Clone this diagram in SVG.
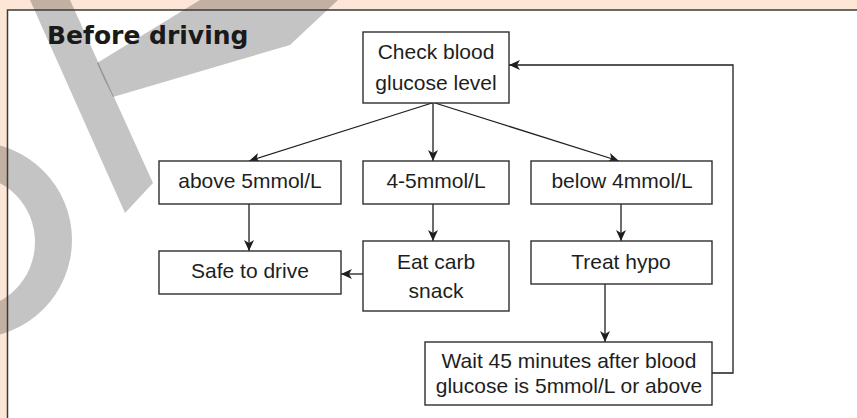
<svg xmlns="http://www.w3.org/2000/svg" width="857" height="418" viewBox="0 0 857 418">
  <defs>
    <style>
      .box { fill: #ffffff; stroke: #2e2e2e; stroke-width: 1.4; }
      .lbl { font-family: "Liberation Sans", Arial, sans-serif; font-size: 21px; fill: #1e1e1e; text-anchor: middle; }
      .title { font-family: "DejaVu Sans", "Liberation Sans", sans-serif; font-weight: bold; font-size: 25px; fill: #1a1a1a; }
      .conn { fill: none; stroke: #1e1e1e; stroke-width: 1.3; }
      .wm { fill: #000000; fill-opacity: 0.23; }
    </style>
    <marker id="arr" markerUnits="userSpaceOnUse" markerWidth="12" markerHeight="11" refX="11" refY="5" orient="auto">
      <path d="M0,0 L11,5 L0,10 L3,5 z" fill="#1e1e1e"/>
    </marker>
    <clipPath id="clipAll"><rect x="0" y="0" width="857" height="418"/></clipPath>
  </defs>

  <!-- background -->
  <rect x="0" y="0" width="857" height="418" fill="#fde6d5"/>
  <rect x="7.5" y="10" width="860" height="420" fill="#ffffff"/>

  <!-- watermark -->
  <g id="watermark" clip-path="url(#clipAll)">
    <polygon class="wm" points="30,0 70,0 153,183 125,213"/>
    <polygon class="wm" points="97,63 200,0 338,0 290,45 113,97 104,79"/>
    <path class="wm" fill-rule="evenodd" d="M-26,142 A98,98 0 1 1 -26,338 A98,98 0 1 1 -26,142 Z M-32,175 A67,67 0 1 0 -32,309 A67,67 0 1 0 -32,175 Z"/>
  </g>

  <!-- panel border -->
  <rect x="7.5" y="10" width="860" height="420" fill="none" stroke="#3a3a3a" stroke-width="1.5"/>

  <text class="title" x="47" y="44">Before driving</text>

  <!-- connectors -->
  <g id="connectors">
    <line class="conn" x1="432" y1="103" x2="249" y2="161" marker-end="url(#arr)"/>
    <line class="conn" x1="433" y1="103" x2="433" y2="161" marker-end="url(#arr)"/>
    <line class="conn" x1="435" y1="103" x2="619" y2="161" marker-end="url(#arr)"/>
    <line class="conn" x1="249" y1="204" x2="249" y2="251" marker-end="url(#arr)"/>
    <line class="conn" x1="433" y1="204" x2="433" y2="241" marker-end="url(#arr)"/>
    <line class="conn" x1="621" y1="204" x2="621" y2="241" marker-end="url(#arr)"/>
    <line class="conn" x1="363" y1="274" x2="341" y2="274" marker-end="url(#arr)"/>
    <line class="conn" x1="605" y1="284" x2="605" y2="342" marker-end="url(#arr)"/>
    <polyline class="conn" points="712,373 733,373 733,65 509,65" marker-end="url(#arr)"/>
  </g>

  <!-- nodes -->
  <g id="check">
    <rect class="box" x="363" y="32" width="146" height="71"/>
    <text class="lbl" x="436" y="59">Check blood</text>
    <text class="lbl" x="436" y="90">glucose level</text>
  </g>
  <g id="above">
    <rect class="box" x="159" y="161" width="182" height="43"/>
    <text class="lbl" x="250" y="188">above 5mmol/L</text>
  </g>
  <g id="mid">
    <rect class="box" x="363" y="161" width="146" height="43"/>
    <text class="lbl" x="436" y="188">4-5mmol/L</text>
  </g>
  <g id="below">
    <rect class="box" x="531" y="161" width="181" height="43"/>
    <text class="lbl" x="622" y="188">below 4mmol/L</text>
  </g>
  <g id="safe">
    <rect class="box" x="159" y="251" width="182" height="43"/>
    <text class="lbl" x="250" y="278">Safe to drive</text>
  </g>
  <g id="eat">
    <rect class="box" x="363" y="241" width="146" height="70"/>
    <text class="lbl" x="436" y="269">Eat carb</text>
    <text class="lbl" x="436" y="298">snack</text>
  </g>
  <g id="treat">
    <rect class="box" x="531" y="241" width="181" height="43"/>
    <text class="lbl" x="621" y="269">Treat hypo</text>
  </g>
  <g id="wait">
    <rect class="box" x="425" y="342" width="287" height="63"/>
    <text class="lbl" x="569" y="368">Wait 45 minutes after blood</text>
    <text class="lbl" x="569" y="393">glucose is 5mmol/L or above</text>
  </g>
</svg>
